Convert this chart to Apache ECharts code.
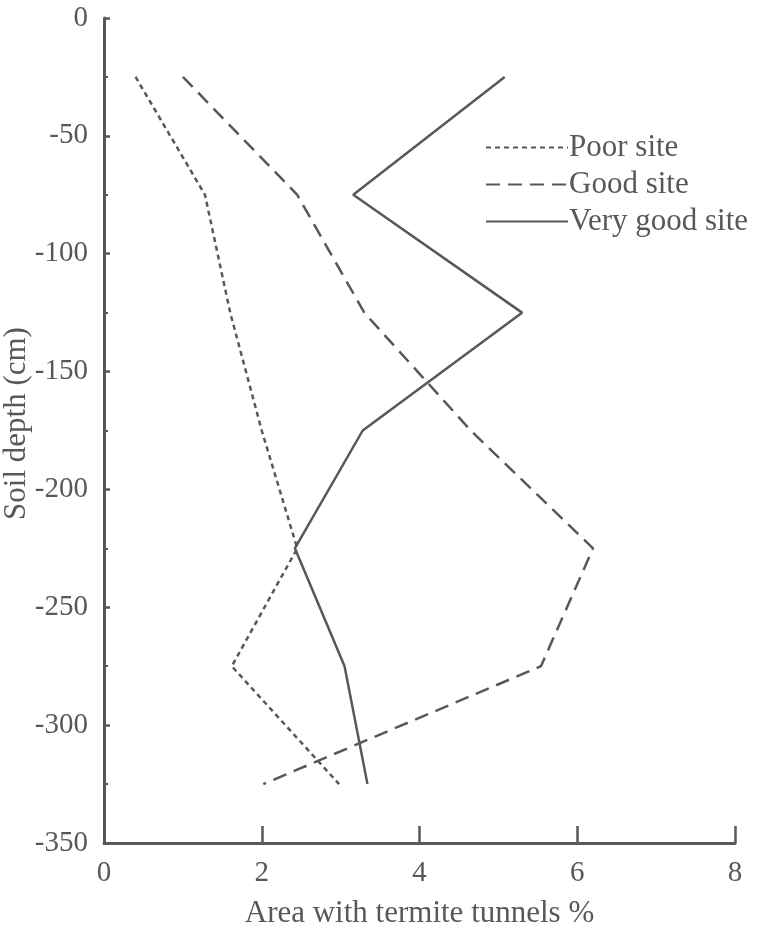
<!DOCTYPE html>
<html>
<head>
<meta charset="utf-8">
<script src="https://cdn.jsdelivr.net/npm/echarts@6/dist/echarts.min.js"></script>
<style>
  html, body { margin: 0; padding: 0; background: #fff; }
  #chart { width: 764px; height: 930px; }
</style>
</head>
<body>
<div id="chart"></div>
<script>
const depths = [-25, -75, -125, -175, -225, -275, -325]
const poorSite = [0.4, 1.28, 1.6, 2.0, 2.45, 1.62, 2.98]
const goodSite = [1.0, 2.45, 3.3, 4.65, 6.2, 5.54, 2.02]
const veryGoodSite = [5.08, 3.16, 5.3, 3.28, 2.42, 3.05, 3.34]

const ink = '#585858'
const font = 'Liberation Serif'

const pairs = vals => vals.map((v, i) => [v, depths[i]])

const myChart = echarts.init(document.getElementById('chart'))
myChart.setOption({
  backgroundColor: '#fff',
  animation: false,
  textStyle: { fontFamily: font, color: ink },
  grid: { left: 104, right: 29, top: 18, bottom: 87, outerBoundsMode: 'none' },
  legend: {
    orient: 'vertical',
    left: 480,
    top: 127,
    itemWidth: 82,
    itemHeight: 14,
    itemGap: 6,
    itemStyle: { opacity: 0 },
    textStyle: { fontFamily: font, fontSize: 31, color: ink, padding: [0, 0, 0, -4] },
    data: ['Poor site', 'Good site', 'Very good site']
  },
  xAxis: {
    type: 'value',
    min: 0,
    max: 8,
    interval: 2,
    name: 'Area with termite tunnels %',
    nameLocation: 'middle',
    nameGap: 55,
    nameTextStyle: { fontFamily: font, fontSize: 31, color: ink },
    axisLine: { show: true, onZero: false, lineStyle: { color: ink, width: 3 } },
    axisTick: { show: true, inside: true, length: 17, lineStyle: { color: ink, width: 2.5 } },
    axisLabel: { fontFamily: font, fontSize: 29, color: ink, margin: 16 },
    splitLine: { show: false }
  },
  yAxis: {
    type: 'value',
    min: -350,
    max: 0,
    interval: 50,
    name: 'Soil depth (cm)',
    nameLocation: 'middle',
    nameGap: 72,
    nameMoveOverlap: false,
    nameTextStyle: { fontFamily: font, fontSize: 31, color: ink, padding: [0, 0, 0, 14] },
    axisLine: { show: true, onZero: false, lineStyle: { color: ink, width: 3 } },
    axisTick: { show: true, inside: true, length: 6, lineStyle: { color: ink, width: 2.5 } },
    minorTick: { show: true, splitNumber: 2, length: 4, lineStyle: { color: ink, width: 2 } },
    axisLabel: { fontFamily: font, fontSize: 29, color: ink, margin: 16 },
    splitLine: { show: false }
  },
  series: [
    {
      name: 'Poor site',
      type: 'line',
      symbol: 'none',
      data: pairs(poorSite),
      lineStyle: { color: ink, width: 2.5, type: [5, 4] },
      itemStyle: { color: ink }
    },
    {
      name: 'Good site',
      type: 'line',
      symbol: 'none',
      data: pairs(goodSite),
      lineStyle: { color: ink, width: 2.5, type: [14, 8] },
      itemStyle: { color: ink }
    },
    {
      name: 'Very good site',
      type: 'line',
      symbol: 'none',
      data: pairs(veryGoodSite),
      lineStyle: { color: ink, width: 2.5 },
      itemStyle: { color: ink }
    }
  ]
})
</script>
</body>
</html>
